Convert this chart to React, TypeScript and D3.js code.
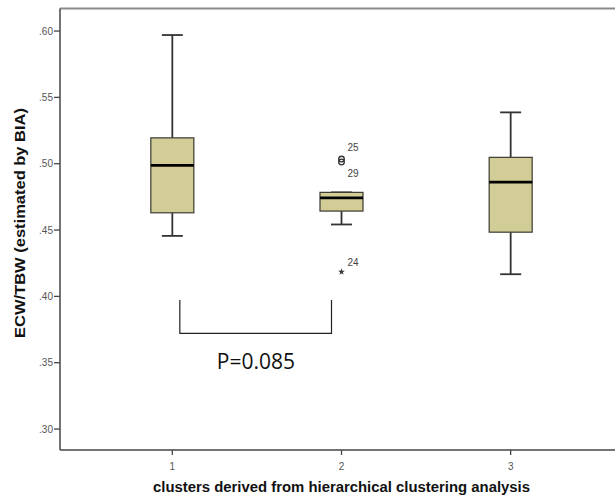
import React from "react";
import * as d3 from "d3";

// Cluster categories and their box-plot summaries
const clusters = ["1", "2", "3"];
const whiskerLow = [0.4456, 0.4542, 0.4167];
const q1 = [0.463, 0.4643, 0.4484];
const median = [0.4987, 0.4743, 0.4861];
const q3 = [0.5195, 0.4784, 0.5048];
const whiskerHigh = [0.597, 0.4784, 0.5387];

// Outliers (circles) and extreme values (stars)
const outlierCluster = ["2", "2"];
const outlierValue = [0.5035, 0.5013];
const outlierLabel = ["25", "29"];
const extremeCluster = ["2"];
const extremeValue = [0.4185];
const extremeLabel = ["24"];

const yTicks = [0.3, 0.35, 0.4, 0.45, 0.5, 0.55, 0.6];
const pValueText = "P=0.085";

const W = 615;
const H = 499;
const left = 60;
const top = 8.5;
const bottom = 450;

export default function App() {
  const x = d3.scalePoint<string>().domain(clusters).range([left, 623]).padding(0.664);
  const y = d3.scaleLinear().domain([0.2842, 0.617]).range([bottom, top]);
  const boxW = 43;
  const capW = 21;
  const fmt = (v: number) => d3.format(".2f")(v).replace(/^0/, "");
  const star = d3.symbol().type(d3.symbolStar).size(14)();

  const x1 = x("1")!;
  const x2 = x("2")!;

  return (
    <svg width={W} height={H} style={{ position: "absolute", left: 0, top: 0, background: "#fff" }}>
      {/* frame */}
      <line x1={left} x2={W} y1={top} y2={top} stroke="#8a8a8a" strokeWidth={2} />
      <line x1={left} x2={W} y1={bottom} y2={bottom} stroke="#444" strokeWidth={1.5} />
      <line x1={left} x2={left} y1={top} y2={bottom} stroke="#444" strokeWidth={1.5} />

      {/* y axis ticks */}
      {yTicks.map((t) => (
        <g key={t}>
          <line x1={left - 6} x2={left} y1={y(t)} y2={y(t)} stroke="#444" strokeWidth={1.3} />
          <text
            x={left - 7}
            y={y(t)}
            dy="0.35em"
            textAnchor="end"
            fontFamily="Liberation Sans, Arial, sans-serif"
            fontSize={10}
            fill="#555"
          >
            {fmt(t)}
          </text>
        </g>
      ))}

      {/* x axis ticks */}
      {clusters.map((c) => (
        <g key={c}>
          <line x1={x(c)!} x2={x(c)!} y1={bottom} y2={bottom + 5} stroke="#444" strokeWidth={1.3} />
          <text
            x={x(c)!}
            y={bottom + 20}
            textAnchor="middle"
            fontFamily="Liberation Sans, Arial, sans-serif"
            fontSize={10}
            fill="#555"
          >
            {c}
          </text>
        </g>
      ))}

      {/* axis titles */}
      <text
        x={341.5}
        y={492}
        textAnchor="middle"
        fontFamily="Liberation Sans, Arial, sans-serif"
        fontWeight="bold"
        fontSize={14}
        textLength={377}
        lengthAdjust="spacingAndGlyphs"
        fill="#111"
      >
        clusters derived from hierarchical clustering analysis
      </text>
      <text
        transform={`translate(25,223) rotate(-90)`}
        textAnchor="middle"
        fontFamily="Liberation Sans, Arial, sans-serif"
        fontWeight="bold"
        fontSize={14.5}
        textLength={230}
        lengthAdjust="spacingAndGlyphs"
        fill="#111"
      >
        ECW/TBW (estimated by BIA)
      </text>

      {/* boxes */}
      {clusters.map((c, i) => {
        const cx = x(c)!;
        return (
          <g key={c}>
            <line x1={cx} x2={cx} y1={y(whiskerHigh[i])} y2={y(q3[i])} stroke="#333" strokeWidth={1.8} />
            <line x1={cx} x2={cx} y1={y(q1[i])} y2={y(whiskerLow[i])} stroke="#333" strokeWidth={1.8} />
            <line
              x1={cx - capW / 2}
              x2={cx + capW / 2}
              y1={y(whiskerHigh[i])}
              y2={y(whiskerHigh[i])}
              stroke="#333"
              strokeWidth={1.8}
            />
            <line
              x1={cx - capW / 2}
              x2={cx + capW / 2}
              y1={y(whiskerLow[i])}
              y2={y(whiskerLow[i])}
              stroke="#333"
              strokeWidth={1.8}
            />
            <rect
              x={cx - boxW / 2}
              y={y(q3[i])}
              width={boxW}
              height={y(q1[i]) - y(q3[i])}
              fill="#d2cd96"
              stroke="#3a3a30"
              strokeWidth={1.2}
            />
            <line
              x1={cx - boxW / 2}
              x2={cx + boxW / 2}
              y1={y(median[i])}
              y2={y(median[i])}
              stroke="#000"
              strokeWidth={2.8}
            />
          </g>
        );
      })}

      {/* outliers */}
      {outlierValue.map((v, i) => (
        <circle
          key={"o" + i}
          cx={x(outlierCluster[i])!}
          cy={y(v)}
          r={2.8}
          fill="none"
          stroke="#333"
          strokeWidth={1.3}
        />
      ))}
      {outlierValue.map((v, i) => (
        <text
          key={"ol" + i}
          x={x(outlierCluster[i])! + 6}
          y={i === 0 ? y(v) - 8 : y(v) + 15}
          fontFamily="Liberation Sans, Arial, sans-serif"
          fontSize={10}
          fill="#444"
        >
          {outlierLabel[i]}
        </text>
      ))}
      {extremeValue.map((v, i) => (
        <g key={"e" + i}>
          <path d={star!} transform={`translate(${x(extremeCluster[i])!},${y(v)})`} fill="#333" />
          <text
            x={x(extremeCluster[i])! + 6}
            y={y(v) - 6}
            fontFamily="Liberation Sans, Arial, sans-serif"
            fontSize={10}
            fill="#444"
          >
            {extremeLabel[i]}
          </text>
        </g>
      ))}

      {/* significance bracket */}
      <path
        d={`M${x1 + 7.5},300 V333.3 H${x2 - 10} V300`}
        fill="none"
        stroke="#222"
        strokeWidth={1.2}
      />
      <text
        x={(x1 + x2) / 2 - 1}
        y={369}
        textAnchor="middle"
        fontFamily="Open Sans, Liberation Sans, sans-serif"
        fontSize={21}
        fill="#111"
      >
        {pValueText}
      </text>
    </svg>
  );
}
